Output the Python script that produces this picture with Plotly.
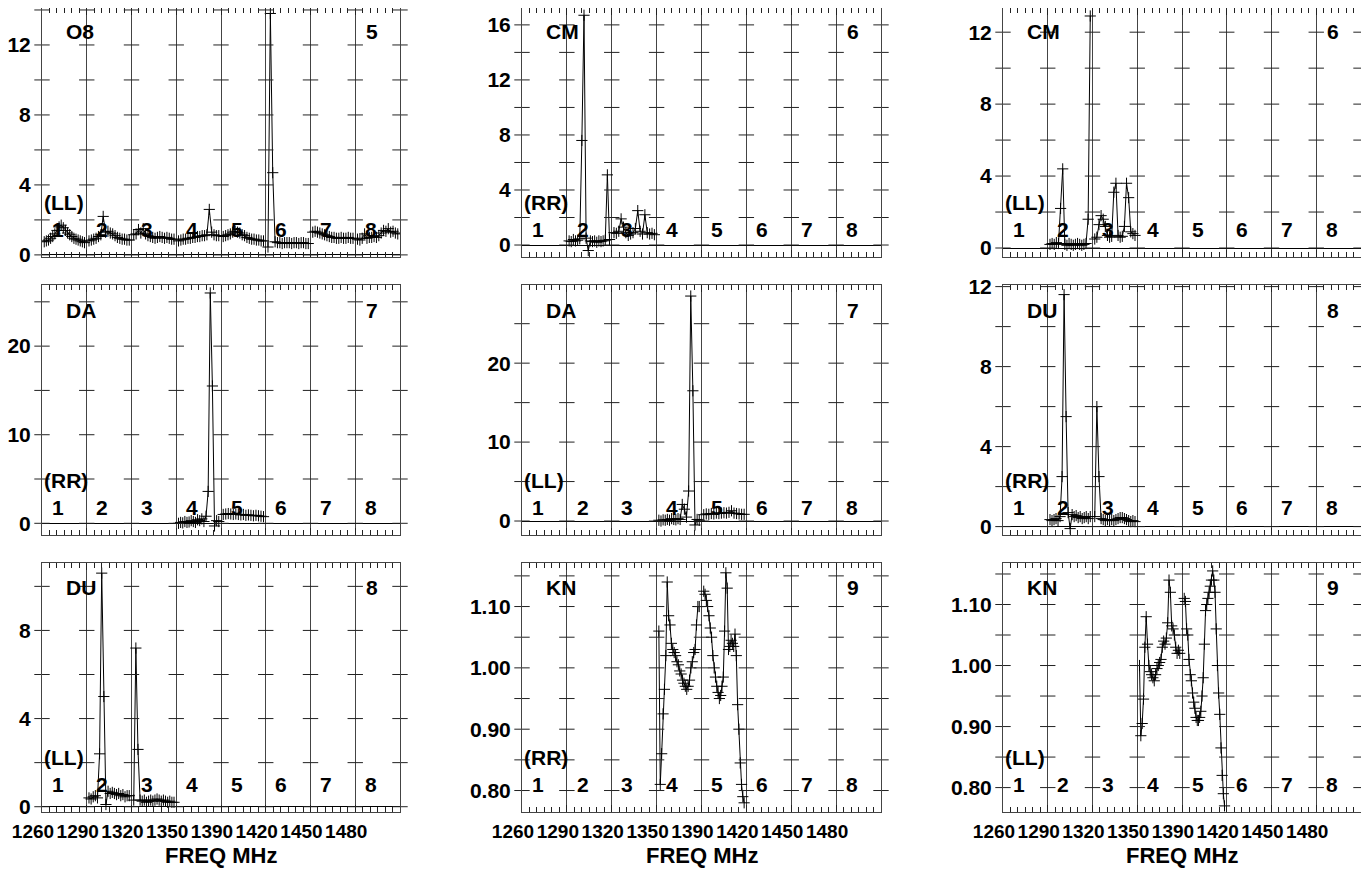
import math
import plotly.graph_objects as go

# ---------------- data ----------------
FREQ_LABELS = ["1260", "1290", "1320", "1350", "1390", "1420", "1450", "1480"]
WINDOW_LABELS = ["1", "2", "3", "4", "5", "6", "7", "8"]

ANTENNAS = ["O8", "CM", "CM", "DA", "DA", "DU", "DU", "KN", "KN"]
POLS = ["(LL)", "(RR)", "(LL)", "(RR)", "(LL)", "(RR)", "(LL)", "(RR)", "(LL)"]
ANT_NUMBERS = ["5", "6", "6", "7", "7", "8", "8", "9", "9"]

# O8 (LL)
o8_ll_w1 = [0.75, 0.8, 0.85, 0.95, 1.05, 1.2, 1.4, 1.6, 1.7, 1.55, 1.4, 1.25, 1.15, 1.05, 0.95, 0.9, 0.85, 0.8, 0.75, 0.7]
o8_ll_w2 = [0.8, 0.85, 0.9, 0.95, 1.05, 1.15, 2.2, 1.3, 1.35, 1.25, 1.2, 1.1, 1.0, 0.95, 0.9, 0.9, 0.85, 0.85]
o8_ll_w3 = [1.15, 1.2, 1.45, 1.25, 1.5, 1.2, 1.1, 1.05, 1.0, 0.95, 1.0, 1.05, 1.0, 0.95, 1.0, 0.95, 0.9, 0.9]
o8_ll_w4 = [0.8, 0.85, 0.9, 0.9, 0.95, 0.95, 1.0, 1.0, 1.05, 1.05, 1.1, 1.1, 1.15, 2.6, 1.3, 1.15, 1.1, 1.1]
o8_ll_w5 = [1.05, 1.1, 1.15, 1.2, 1.3, 1.35, 1.3, 1.25, 1.15, 1.1, 1.0, 0.95, 0.9, 0.9, 0.85, 0.85, 0.8, 0.8]
o8_ll_w6 = [0.45, 13.8, 4.7, 0.75, 0.7, 0.7, 0.65, 0.7, 0.7, 0.7, 0.65, 0.7, 0.7, 0.65, 0.7, 0.7, 0.65, 0.65]
o8_ll_w7 = [1.3, 1.35, 1.3, 1.25, 1.2, 1.15, 1.1, 1.05, 1.0, 1.0, 0.95, 0.95, 1.0, 0.95, 0.95, 1.0, 0.95, 0.95]
o8_ll_w8 = [0.9, 0.85, 0.95, 1.2, 0.95, 1.0, 1.0, 1.05, 1.0, 1.1, 1.25, 1.4, 1.35, 1.5, 1.3, 1.35, 1.25, 1.2]

# CM (RR)
cm_rr_w2 = [0.3, 0.25, 0.4, 0.3, 0.35, 0.45, 7.6, 16.7, 0.5, -0.4, 0.3, 0.25, 0.3, 0.2, 0.3, 0.25, 0.3, 0.35, 5.1, 0.4]
cm_rr_w3 = [0.9, 0.85, 1.0, 1.9, 1.3, 0.9, 0.7, 0.8, 0.9, 1.2, 2.5, 1.0, 0.8, 2.2, 0.9, 0.8, 0.85, 0.75]

# CM (LL)
cm_ll_w2 = [0.2, 0.25, 0.2, 0.3, 0.25, 2.2, 4.4, 0.2, 0.15, 0.25, 0.2, 0.15, 0.2, 0.25, 0.2, 0.15, 0.2, 0.25, 1.6, 12.9]
cm_ll_w3 = [0.5, 0.6, 1.3, 1.8, 1.6, 1.2, 0.7, 0.6, 0.65, 3.1, 3.6, 0.7, 0.6, 0.65, 1.2, 3.6, 2.8, 0.9, 0.8, 0.7]

# DA (RR)
da_rr_w4 = [0.0, 0.1, 0.05, 0.2, 0.1, 0.15, 0.3, 0.2, 0.1, 0.4, 0.3, 0.5, 0.2, 0.8, 3.6, 26.0, 15.5, -0.3, 0.3, 0.2]
da_rr_w5 = [1.0, 1.05, 1.1, 1.05, 1.0, 1.05, 1.0, 0.95, 1.0, 0.9, 0.95, 0.9, 0.85, 0.9, 0.85, 0.8, 0.75]

# DA (LL)
da_ll_w4 = [0.1, 0.0, 0.15, 0.1, 0.2, 0.1, 0.3, 0.2, 0.15, 0.3, 0.2, 2.1, 1.5, 0.5, 3.8, 28.5, 16.5, -0.5, 0.2, 0.1]
da_ll_w5 = [0.8, 0.9, 0.85, 0.95, 0.9, 1.0, 0.95, 1.0, 1.05, 1.0, 1.1, 1.3, 1.0, 0.95, 0.9, 0.85, 0.85]

# DU (RR)
du_rr_w2 = [0.35, 0.3, 0.35, 0.4, 0.3, 0.5, 2.5, 11.6, 5.5, 0.7, -0.1, 0.6, 0.5, 0.55, 0.45, 0.5, 0.4, 0.45, 0.5, 0.4, 0.5]
du_rr_w3 = [0.5, 6.0, 2.5, 0.4, 0.35, 0.3, 0.35, 0.3, 0.35, 0.3, 0.35, 0.4, 0.45, 0.45, 0.4, 0.35, 0.3, 0.25, 0.3, 0.25]

# DU (LL)
du_ll_w2 = [0.4, 0.35, 0.45, 0.5, 0.4, 2.4, 10.6, 5.0, 0.1, 0.7, 0.6, 0.65, 0.6, 0.55, 0.6, 0.5, 0.55, 0.45, 0.5, 0.5]
du_ll_w3 = [0.3, 7.2, 2.6, 0.3, 0.25, 0.3, 0.2, 0.25, 0.3, 0.25, 0.3, 0.35, 0.3, 0.25, 0.3, 0.25, 0.2, 0.25, 0.2, 0.2]

# KN (RR)
kn_rr_w4 = [1.06, 0.81, 0.86, 0.925, 0.965, 1.02, 1.14, 1.085, 1.07, 1.04, 1.03, 1.025, 1.02, 1.01, 1.005,
            0.995, 0.99, 0.98, 0.975, 0.97, 0.965, 0.97, 0.98, 1.0, 1.01, 1.025, 1.03, 1.07, 1.10, 1.10]
kn_rr_w5 = [1.125, 1.12, 1.11, 1.10, 1.085, 1.065, 1.05, 1.02, 1.0, 0.985, 0.97, 0.96, 0.95, 0.955, 0.97, 0.985,
            1.06, 1.155, 1.13, 1.03, 1.035, 1.045, 1.04, 1.035, 1.055, 1.02, 0.94, 0.90, 0.845, 0.81, 0.79, 0.78]

# KN (LL)
kn_ll_w4 = [1.0, 0.885, 0.905, 0.945, 1.03, 1.08, 1.035, 1.0, 0.99, 0.985, 0.98, 0.975, 0.985, 0.995, 1.0, 1.005,
            1.01, 1.03, 1.04, 1.035, 1.045, 1.07, 1.14, 1.12, 1.065, 1.06, 1.05, 1.03, 1.02, 1.025, 1.02]
kn_ll_w5 = [1.11, 1.105, 1.06, 1.05, 1.01, 0.985, 0.975, 0.955, 0.94, 0.93, 0.915, 0.91, 0.91, 0.915, 0.925,
            0.95, 0.98, 1.035, 1.09, 1.10, 1.11, 1.12, 1.13, 1.14, 1.155, 1.14, 1.12, 1.06, 1.0, 0.955, 0.92,
            0.865, 0.82, 0.79, 0.77]

# window index (0-based) -> values, per panel
PANEL_DATA = [
    {0: o8_ll_w1, 1: o8_ll_w2, 2: o8_ll_w3, 3: o8_ll_w4, 4: o8_ll_w5, 5: o8_ll_w6, 6: o8_ll_w7, 7: o8_ll_w8},
    {1: cm_rr_w2, 2: cm_rr_w3},
    {1: cm_ll_w2, 2: cm_ll_w3},
    {3: da_rr_w4, 4: da_rr_w5},
    {3: da_ll_w4, 4: da_ll_w5},
    {1: du_rr_w2, 2: du_rr_w3},
    {1: du_ll_w2, 2: du_ll_w3},
    {3: kn_rr_w4, 4: kn_rr_w5},
    {3: kn_ll_w4, 4: kn_ll_w5},
]

# ---------------- layout / styling ----------------
Y_RANGES = [(-0.12, 14.17), (-0.87, 17.3), (-0.5, 13.4), (-1.32, 26.9), (-1.77, 29.9),
            (-0.42, 12.08), (-0.24, 11.06), (0.765, 1.171), (0.76, 1.168)]
Y_TICK_STEP = [2, 2, 2, 5, 5, 2, 2, 0.05, 0.05]
Y_LABEL_STEP = [4, 4, 4, 10, 10, 4, 4, 0.1, 0.1]

W, H = 1369, 869
OFF = 8  # page body margin
COL_PX = [(42 - OFF, 400 - OFF), (522 - OFF, 881 - OFF), (1003 - OFF, 1361 - OFF)]
ROW_PX = [(7 - OFF, 257 - OFF), (285 - OFF, 535 - OFF), (563 - OFF, 812 - OFF)]
XLABEL_Y = 855 - OFF

FONT = "Liberation Sans, Arial, Helvetica, sans-serif"
LINEC = "#444444"


def b(t):
    return f"<b>{t}</b>"


fig = go.Figure()
annotations = []

for idx in range(9):
    r, c = divmod(idx, 3)
    n = idx + 1
    xa = "x" if n == 1 else f"x{n}"
    ya = "y" if n == 1 else f"y{n}"
    xkey = "xaxis" if n == 1 else f"xaxis{n}"
    ykey = "yaxis" if n == 1 else f"yaxis{n}"

    x0, x1 = COL_PX[c]
    y0, y1 = ROW_PX[r]
    lo, hi = Y_RANGES[idx]
    # clip panel top at the page edge (keep the same scale)
    if y0 < 0:
        hi = lo + (hi - lo) * (y1 - 0) / (y1 - y0)
        y0 = 0

    # data trace
    xs, ys = [], []
    for w, vals in PANEL_DATA[idx].items():
        m = len(vals)
        for k, v in enumerate(vals):
            xs.append(w + 0.05 + 0.9 * k / (m - 1))
            ys.append(v)
        xs.append(None)
        ys.append(None)
    fig.add_trace(go.Scatter(
        x=xs, y=ys, mode="lines+markers", xaxis=xa, yaxis=ya,
        line=dict(color="black", width=1),
        marker=dict(symbol="cross-thin", size=8, color="black", line=dict(color="black", width=1)),
        showlegend=False, hoverinfo="skip"))

    # cross ticks on borders and window separators
    step = Y_TICK_STEP[idx]
    k0 = math.ceil(lo / step - 1e-9)
    k1 = math.floor(hi / step + 1e-9)
    yt = [round(k * step, 6) for k in range(k0, k1 + 1)]
    tx, ty = [], []
    for s in range(9):
        for yv in yt:
            tx.append(s)
            ty.append(yv)
    fig.add_trace(go.Scatter(
        x=tx, y=ty, mode="markers", xaxis=xa, yaxis=ya, cliponaxis=False,
        marker=dict(symbol="line-ew", size=11, color="#222", line=dict(color="#222", width=1)),
        showlegend=False, hoverinfo="skip"))

    # y labels
    lstep = Y_LABEL_STEP[idx]
    j0 = math.ceil(lo / lstep - 1e-9)
    j1 = math.floor(hi / lstep + 1e-9)
    lv = [round(j * lstep, 6) for j in range(j0, j1 + 1)]
    if lstep < 1:
        lt = [b(f"{v:.2f}") for v in lv]
    else:
        lt = [b(f"{v:g}") for v in lv]

    fig.layout[xkey] = dict(
        domain=[x0 / W, x1 / W], anchor=ya, range=[0, 8], automargin=False,
        tickmode="array", tickvals=list(range(8)), ticktext=[b(t) for t in FREQ_LABELS],
        showticklabels=(r == 2), tickangle=0, ticks="inside", ticklen=7, tickcolor="#222",
        showline=True, linecolor=LINEC, linewidth=1, mirror="ticks",
        showgrid=True, gridcolor=LINEC, gridwidth=1, zeroline=False,
        minor=dict(tickmode="linear", tick0=0, dtick=1 / 6, ticks="inside", ticklen=5,
                   tickcolor="#222", showgrid=False),
        tickfont=dict(family=FONT, size=19, color="black"),
        ticklabelshift=-9, ticklabelstandoff=2, fixedrange=True)
    fig.layout[ykey] = dict(
        domain=[max(0.0, 1 - y1 / H), min(1.0, 1 - y0 / H)], anchor=xa, range=[lo, hi],
        automargin=False, tickmode="array", tickvals=lv, ticktext=lt, ticks="",
        showline=True, linecolor=LINEC, linewidth=1, mirror=True,
        showgrid=False, zeroline=True, zerolinecolor="black", zerolinewidth=1,
        tickfont=dict(family=FONT, size=21, color="black"),
        ticklabelstandoff=6, fixedrange=True)

    # annotation heights measured in pixels from the panel bottom
    ph = y1 - y0

    def yfrac(frac_of_full, ph=ph):
        return (frac_of_full * 250.0) / ph

    afont = dict(family=FONT, size=21, color="black")
    yd = f"{ya} domain"
    annotations.append(dict(x=0.5, y=yfrac(0.9), xref=xa, yref=yd, text=b(ANTENNAS[idx]),
                            xanchor="left", yanchor="middle", showarrow=False, font=afont))
    annotations.append(dict(x=7.38, y=yfrac(0.9), xref=xa, yref=yd, text=b(ANT_NUMBERS[idx]),
                            xanchor="center", yanchor="middle", showarrow=False, font=afont))
    annotations.append(dict(x=0.0, y=yfrac(0.218), xref=xa, yref=yd, text=b(POLS[idx]),
                            xanchor="left", yanchor="middle", showarrow=False, font=afont))
    for w, lab in enumerate(WINDOW_LABELS):
        annotations.append(dict(x=w + 0.35, y=yfrac(0.11), xref=xa, yref=yd, text=b(lab),
                                xanchor="center", yanchor="middle", showarrow=False, font=afont))
    if r == 2:
        annotations.append(dict(x=0.5, y=1 - XLABEL_Y / H, xref=f"{xa} domain", yref="paper",
                                text=b("FREQ MHz"), xanchor="center", yanchor="middle", showarrow=False,
                                font=dict(family=FONT, size=22, color="black")))

fig.update_layout(
    width=W, height=H, margin=dict(l=0, r=0, t=0, b=0, autoexpand=False),
    paper_bgcolor="white", plot_bgcolor="white",
    annotations=annotations, showlegend=False)

fig.write_html("out.html")
